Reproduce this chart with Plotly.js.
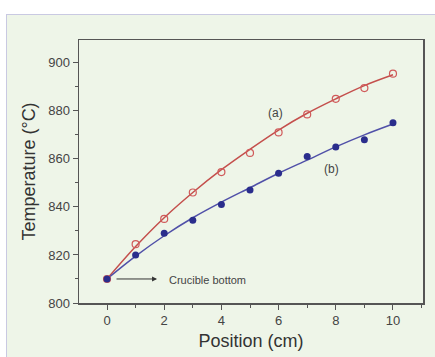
<!DOCTYPE html>
<html><head><meta charset="utf-8">
<script src="https://cdn.plot.ly/plotly-3.0.1.min.js"></script>
<style>
html,body{margin:0;padding:0;background:#ffffff;width:435px;height:357px;overflow:hidden;}
#wrap{position:absolute;left:6px;top:14px;width:428px;height:342px;border-top:1px solid #c9c9e2;border-left:1px solid #c9c9e2;background:#eef5e8;}
#chart{width:428px;height:342px;}
</style></head>
<body><div id="wrap"><div id="chart"></div></div>
<script>
const positions = [0,1,2,3,4,5,6,7,8,9,10];
const tempA = [810,824.5,835,846,854.5,862.5,871,878.5,885,889.5,895.5];
const tempB = [810,820,829,834.5,841,847,854,861,865,868,875];
const fitA = [810,823.5,835.5,846,855.5,864,872,879,885,890.5,895];
const fitB = [810,819.5,828,835.5,842,848,854,859.5,865,870,874.5];
const xTicks = [0,2,4,6,8,10];
const yTicks = [800,820,840,860,880,900];

const font = "Liberation Sans, Arial, sans-serif";
const traces = [
  {x: positions, y: fitA, mode:'lines', line:{color:'#c44f4c', width:1.5, shape:'spline', smoothing:1}, hoverinfo:'skip'},
  {x: positions, y: fitB, mode:'lines', line:{color:'#5050a8', width:1.5, shape:'spline', smoothing:1}, hoverinfo:'skip'},
  {x: positions, y: tempA, mode:'markers', marker:{symbol:'circle-open', size:7, color:'#d05a5a', line:{width:1.2}}},
  {x: positions, y: tempB, mode:'markers', marker:{symbol:'circle', size:7, color:'#2a2d8c'}}
];
const axisCommon = {showgrid:false, zeroline:false, showline:true, linecolor:'#555', linewidth:1.5, mirror:true,
  ticks:'outside', ticklen:5, tickwidth:1, tickcolor:'#555', tickfont:{family:font, size:13, color:'#444'},
  minor:{ticks:'outside', ticklen:3, tickcolor:'#555', tickwidth:1}};
const layout = {
  width:428, height:342,
  margin:{l:72, r:12, t:25, b:54},
  paper_bgcolor:'#eef5e8', plot_bgcolor:'#eef5e8',
  showlegend:false,
  xaxis:Object.assign({}, axisCommon, {range:[-0.98,11.05], tickvals:xTicks, ticktext:xTicks.map(String),
    minor:Object.assign({}, axisCommon.minor, {dtick:1, tick0:0}),
    title:{text:'Position (cm)', font:{family:font, size:18, color:'#333'}, standoff:7}}),
  yaxis:Object.assign({}, axisCommon, {range:[800,909.5], tickvals:yTicks, ticktext:yTicks.map(String),
    minor:Object.assign({}, axisCommon.minor, {dtick:10, tick0:800}),
    title:{text:'Temperature (°C)', font:{family:font, size:18, color:'#333'}, standoff:8}}),
  annotations:[
    {x:5.9, y:879, text:'(a)', showarrow:false, font:{family:font, size:12, color:'#444'}},
    {x:7.85, y:856, text:'(b)', showarrow:false, font:{family:font, size:12, color:'#444'}},
    {x:2.1, y:809.5, text:'Crucible bottom', xanchor:'left', showarrow:false, font:{family:font, size:11, color:'#444'}},
    {x:1.75, y:810, ax:0.28, ay:810, axref:'x', ayref:'y', text:'', showarrow:true, arrowhead:2, arrowsize:1, arrowwidth:1, arrowcolor:'#333'}
  ]
};
Plotly.newPlot('chart', traces, layout, {staticPlot:true, displayModeBar:false});
</script></body></html>
